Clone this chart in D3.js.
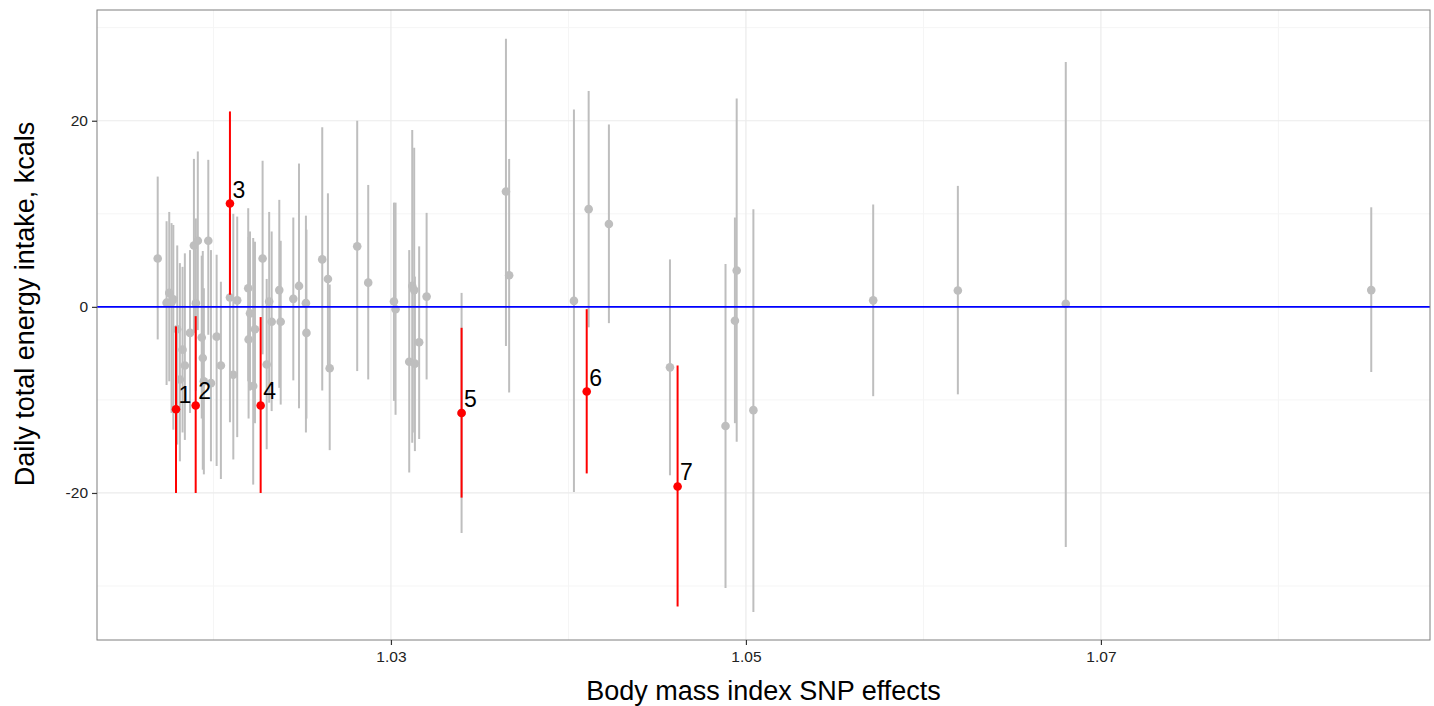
<!DOCTYPE html>
<html>
<head>
<meta charset="utf-8">
<script src="https://cdn.jsdelivr.net/npm/d3@7"></script>
<style>
  html, body { margin: 0; padding: 0; background: #ffffff; }
  svg { display: block; font-family: "Liberation Sans", Arial, Helvetica, sans-serif; }
</style>
</head>
<body>
<svg id="chart" width="1434" height="706"></svg>
<script>
// ---- Data ----
const greyX  = [1.01686, 1.01736, 1.01751, 1.01764, 1.01774, 1.01796, 1.01811, 1.01826, 1.01839, 1.01868,
                1.01890, 1.01901, 1.01912, 1.01934, 1.01940, 1.01946, 1.01971, 1.01986, 1.02018, 1.02042,
                1.02093, 1.02112, 1.02134, 1.02196, 1.02198, 1.02206, 1.02224, 1.02234, 1.02277, 1.02300,
                1.02314, 1.02328, 1.02371, 1.02379, 1.02450, 1.02482, 1.02521, 1.02524, 1.02613, 1.02645,
                1.02655, 1.02810, 1.02872, 1.03017, 1.03026, 1.03103, 1.03120, 1.03131, 1.03135, 1.03159,
                1.03201, 1.03398, 1.03648, 1.03666, 1.04031, 1.04114, 1.04228, 1.04572, 1.04885, 1.04938,
                1.04948, 1.05042, 1.05717, 1.06194, 1.06802, 1.08523];
const greyY  = [5.2, 0.45, 1.5, 0.5, 0.8, -2.4, -7.8, -4.6, -6.3, -2.8,
                6.6, 0.4, 7.1, -3.3, -5.5, -8.0, 7.1, -8.2, -3.2, -6.3,
                1.0, -7.3, 0.7, 2.0, -3.5, -0.7, -8.5, -2.4, 5.2, -6.2,
                0.57, -1.6, 1.8, -1.6, 0.86, 2.25, 0.4, -2.8, 5.1, 3.0,
                -6.6, 6.5, 2.6, 0.57, -0.25, -5.9, 2.25, 1.8, -6.1, -3.8,
                1.1, -11.4, 12.4, 3.4, 0.64, 10.5, 8.9, -6.5, -12.8, -1.5,
                3.9, -11.1, 0.7, 1.75, 0.34, 1.8];
const greyLo = [-3.5, -8.4, -8.0, -11.4, -13.2, -14.8, -16.6, -13.5, -14.3, -11.4,
                -2.8, -9.0, -2.5, -12.0, -17.5, -18.0, -3.0, -16.6, -17.1, -18.5,
                -12.4, -16.4, -14.0, -8.0, -12.0, -9.0, -19.1, -12.5, -5.1, -15.3,
                -10.3, -11.2, -8.7, -10.5, -7.9, -10.9, -13.5, -12.0, -9.0, -6.5,
                -15.4, -6.9, -7.8, -10.1, -11.6, -17.8, -14.6, -13.5, -15.5, -14.2,
                -7.8, -24.3, -4.2, -9.2, -19.9, -2.2, -1.75, -18.1, -30.2, -12.5,
                -14.5, -32.8, -9.6, -9.4, -25.8, -7.0];
const greyHi = [14.0, 9.2, 10.2, 9.0, 8.8, 6.6, 4.7, 4.3, 5.75, 6.1,
                15.9, 9.5, 16.7, 5.5, 6.0, 2.0, 15.8, 6.1, 5.6, 2.7,
                10.0, 10.0, 9.7, 10.6, 7.5, 8.1, 7.4, 7.0, 15.7, 3.0,
                10.2, 8.1, 11.5, 7.1, 9.6, 15.4, 9.8, 8.3, 19.3, 12.2,
                2.4, 20.0, 13.1, 11.2, 11.2, 6.1, 19.0, 17.1, 3.25, 6.5,
                10.1, 1.5, 28.8, 15.9, 21.2, 23.2, 19.6, 5.1, 4.6, 9.6,
                22.4, 10.5, 11.0, 13.0, 26.3, 10.7];

const redLabels = ["1", "2", "3", "4", "5", "6", "7"];
const redX  = [1.01789, 1.01900, 1.02093, 1.02266, 1.03398, 1.04103, 1.04615];
const redY  = [-11.0, -10.6, 11.1, -10.6, -11.4, -9.1, -19.3];
const redLo = [-20.0, -20.0, 1.3, -20.0, -20.5, -17.9, -32.2];
const redHi = [-2.1, -1.0, 21.0, -1.1, -2.25, -0.25, -6.3];

const xTicks = [1.03, 1.05, 1.07];
const xMinor = [1.02, 1.04, 1.06, 1.08];
const yTicks = [-20, 0, 20];
const yMinor = [-30, -10, 10, 30];
const refLine = 0;

const xTitle = "Body mass index SNP effects";
const yTitle = "Daily total energy intake, kcals";

// ---- Layout ----
const svg = d3.select("#chart");
const L = 97, R = 1430, T = 10, B = 640;

const x = d3.scaleLinear().domain([1.01344, 1.08854]).range([L, R]);
const y = d3.scaleLinear().domain([-35.8, 31.9]).range([B, T]);

const grey = greyX.map((v, i) => ({x: v, y: greyY[i], lo: greyLo[i], hi: greyHi[i]}));
const red = redX.map((v, i) => ({x: v, y: redY[i], lo: redLo[i], hi: redHi[i], label: redLabels[i]}));

// panel background
svg.append("rect").attr("x", L).attr("y", T).attr("width", R - L).attr("height", B - T).attr("fill", "#ffffff");

const grid = svg.append("g");
grid.selectAll(".vminor").data(xMinor).join("line")
  .attr("x1", d => x(d)).attr("x2", d => x(d)).attr("y1", T).attr("y2", B)
  .attr("stroke", "#f5f5f5").attr("stroke-width", 1);
grid.selectAll(".hminor").data(yMinor).join("line")
  .attr("x1", L).attr("x2", R).attr("y1", d => y(d)).attr("y2", d => y(d))
  .attr("stroke", "#f5f5f5").attr("stroke-width", 1);
grid.selectAll(".vmajor").data(xTicks).join("line")
  .attr("x1", d => x(d)).attr("x2", d => x(d)).attr("y1", T).attr("y2", B)
  .attr("stroke", "#ebebeb").attr("stroke-width", 1.2);
grid.selectAll(".hmajor").data(yTicks).join("line")
  .attr("x1", L).attr("x2", R).attr("y1", d => y(d)).attr("y2", d => y(d))
  .attr("stroke", "#ebebeb").attr("stroke-width", 1.2);

// grey error bars and points
const g = svg.append("g");
g.selectAll("line.gbar").data(grey).join("line")
  .attr("x1", d => x(d.x)).attr("x2", d => x(d.x))
  .attr("y1", d => y(d.lo)).attr("y2", d => y(d.hi))
  .attr("stroke", "#bebebe").attr("stroke-width", 2);
g.selectAll("circle.gpt").data(grey).join("circle")
  .attr("cx", d => x(d.x)).attr("cy", d => y(d.y)).attr("r", 4.3)
  .attr("fill", "#bebebe");

// reference line
svg.append("line")
  .attr("x1", L).attr("x2", R).attr("y1", y(refLine)).attr("y2", y(refLine))
  .attr("stroke", "#0000ff").attr("stroke-width", 1.6);

// red highlighted SNPs
const r = svg.append("g");
r.selectAll("line.rbar").data(red).join("line")
  .attr("x1", d => x(d.x)).attr("x2", d => x(d.x))
  .attr("y1", d => y(d.lo)).attr("y2", d => y(d.hi))
  .attr("stroke", "#ff0000").attr("stroke-width", 2);
r.selectAll("circle.rpt").data(red).join("circle")
  .attr("cx", d => x(d.x)).attr("cy", d => y(d.y)).attr("r", 4.3)
  .attr("fill", "#ff0000");
r.selectAll("text.rlab").data(red).join("text")
  .attr("x", d => x(d.x) + 2.5)
  .attr("y", d => y(d.y) - 6)
  .attr("font-size", 23).attr("fill", "#000000")
  .text(d => d.label);

// panel border
svg.append("rect").attr("x", L).attr("y", T).attr("width", R - L).attr("height", B - T)
  .attr("fill", "none").attr("stroke", "#7f7f7f").attr("stroke-width", 1);

// axes
const xAxis = svg.append("g").attr("transform", `translate(0,${B})`)
  .call(d3.axisBottom(x).tickValues(xTicks).tickFormat(d3.format(".2f")).tickSize(5).tickPadding(6));
const yAxis = svg.append("g").attr("transform", `translate(${L},0)`)
  .call(d3.axisLeft(y).tickValues(yTicks).tickFormat(d => d < 0 ? "-" + Math.abs(d) : String(d)).tickSize(5).tickPadding(4));
[xAxis, yAxis].forEach(a => {
  a.select(".domain").remove();
  a.selectAll(".tick line").attr("stroke", "#333333").attr("stroke-width", 1.2);
  a.selectAll(".tick text").attr("fill", "#222222").attr("font-size", 15.5)
    .attr("font-family", '"Liberation Sans", Arial, sans-serif');
});

// titles
svg.append("text").attr("x", (L + R) / 2).attr("y", 700)
  .attr("text-anchor", "middle").attr("font-size", 27).attr("fill", "#000")
  .text(xTitle);
svg.append("text").attr("transform", "translate(34,304) rotate(-90)")
  .attr("text-anchor", "middle").attr("font-size", 27).attr("fill", "#000")
  .text(yTitle);
</script>
</body>
</html>
